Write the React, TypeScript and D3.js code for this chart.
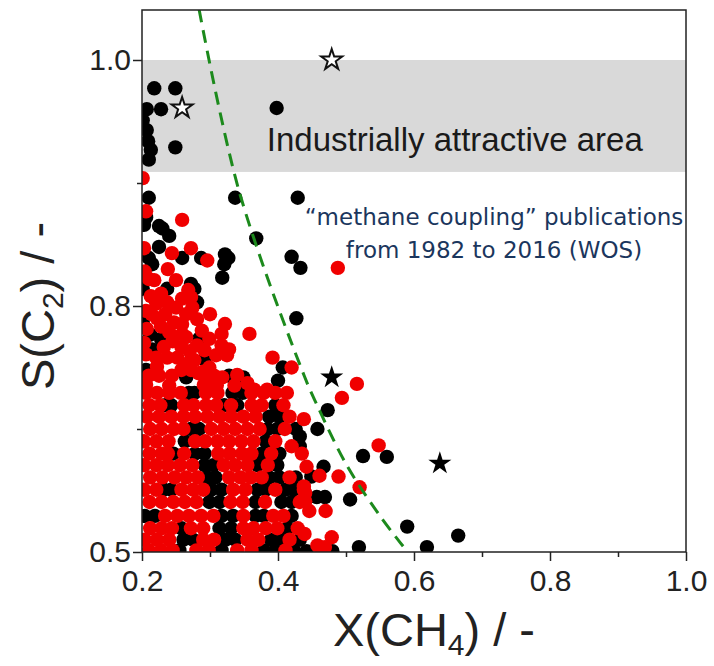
import * as d3 from "d3";
import { useRef, useEffect } from "react";

// publications, black (older) points: [X(CH4), S(C2)]
const blackPoints: [number, number][] = [
  [0.218, 0.977], [0.249, 0.977], [0.207, 0.96], [0.228, 0.96], [0.398, 0.961],
  [0.201, 0.951], [0.207, 0.943], [0.209, 0.934], [0.213, 0.927], [0.21, 0.919], [0.249, 0.929],
  [0.21, 0.888], [0.206, 0.872], [0.203, 0.866], [0.337, 0.888], [0.429, 0.888],
  [0.23, 0.863], [0.24, 0.857], [0.225, 0.865], [0.368, 0.855], [0.42, 0.84], [0.433, 0.831],
  [0.427, 0.785], [0.407, 0.725], [0.4, 0.709],
  [0.322, 0.842], [0.327, 0.839], [0.321, 0.834], [0.318, 0.823], [0.287, 0.839], [0.225, 0.848],
  [0.259, 0.839], [0.21, 0.839], [0.215, 0.834], [0.272, 0.818], [0.277, 0.814], [0.237, 0.814],
  [0.201, 0.814], [0.281, 0.803], [0.228, 0.76], [0.232, 0.762], [0.284, 0.76], [0.292, 0.735],
  [0.215, 0.747], [0.206, 0.722], [0.265, 0.713], [0.328, 0.715], [0.349, 0.713], [0.269, 0.694],
  [0.277, 0.694], [0.201, 0.78], [0.212, 0.765],
  [0.473, 0.673], [0.458, 0.65], [0.432, 0.641], [0.432, 0.629], [0.525, 0.617], [0.56, 0.616],
  [0.467, 0.604], [0.449, 0.592], [0.457, 0.567], [0.469, 0.567], [0.506, 0.564], [0.59, 0.531],
  [0.665, 0.52], [0.619, 0.506], [0.519, 0.506], [0.442, 0.501], [0.48, 0.501],
  [0.333, 0.694], [0.348, 0.694],
  [0.234, 0.679], [0.243, 0.679], [0.321, 0.679], [0.34, 0.679], [0.396, 0.679],
  [0.387, 0.665], [0.402, 0.665],
  [0.272, 0.65], [0.284, 0.65], [0.385, 0.65], [0.399, 0.65], [0.426, 0.65],
  [0.263, 0.635], [0.382, 0.635],
  [0.246, 0.62], [0.278, 0.62], [0.292, 0.62], [0.376, 0.62], [0.402, 0.62],
  [0.292, 0.606], [0.305, 0.606], [0.37, 0.606], [0.399, 0.606],
  [0.296, 0.591], [0.308, 0.591], [0.387, 0.591], [0.402, 0.591], [0.426, 0.591],
  [0.232, 0.576], [0.243, 0.576], [0.302, 0.576], [0.317, 0.576], [0.37, 0.576], [0.382, 0.576],
  [0.411, 0.576], [0.423, 0.576],
  [0.299, 0.561], [0.314, 0.561], [0.367, 0.561], [0.405, 0.561], [0.42, 0.561],
  [0.204, 0.544], [0.219, 0.544], [0.317, 0.544], [0.334, 0.544], [0.367, 0.544], [0.379, 0.544],
  [0.42, 0.544],
  [0.258, 0.529], [0.314, 0.529], [0.331, 0.529], [0.414, 0.529],
  [0.261, 0.515], [0.275, 0.515], [0.323, 0.515], [0.337, 0.515], [0.39, 0.515], [0.405, 0.515],
  [0.432, 0.515],
  [0.255, 0.502], [0.317, 0.502], [0.379, 0.502], [0.396, 0.502], [0.423, 0.502],
];

// publications, red (recent) points
const redPoints: [number, number][] = [
  [0.201, 0.904], [0.206, 0.877], [0.259, 0.87], [0.488, 0.831], [0.358, 0.766], [0.392, 0.737],
  [0.42, 0.725],
  [0.296, 0.837], [0.272, 0.847], [0.244, 0.843], [0.203, 0.847], [0.238, 0.83], [0.204, 0.828],
  [0.21, 0.822], [0.218, 0.821], [0.25, 0.821], [0.268, 0.813], [0.213, 0.808], [0.221, 0.802],
  [0.237, 0.803], [0.259, 0.806], [0.272, 0.807], [0.25, 0.798], [0.274, 0.798], [0.206, 0.794],
  [0.281, 0.784], [0.247, 0.78], [0.259, 0.778], [0.207, 0.772], [0.222, 0.785], [0.234, 0.79],
  [0.259, 0.766], [0.265, 0.762], [0.245, 0.757], [0.299, 0.76], [0.317, 0.766], [0.322, 0.778],
  [0.317, 0.752], [0.328, 0.747], [0.281, 0.752], [0.292, 0.746], [0.309, 0.74], [0.325, 0.74],
  [0.206, 0.741], [0.221, 0.737], [0.237, 0.737], [0.252, 0.737], [0.269, 0.731], [0.277, 0.734],
  [0.299, 0.725], [0.21, 0.715], [0.225, 0.715], [0.244, 0.715], [0.306, 0.715], [0.318, 0.713],
  [0.24, 0.703], [0.206, 0.704], [0.291, 0.704], [0.31, 0.703], [0.336, 0.703], [0.365, 0.698],
  [0.384, 0.698], [0.222, 0.726], [0.258, 0.722], [0.283, 0.718], [0.203, 0.755],
  [0.228, 0.775], [0.24, 0.768], [0.27, 0.745], [0.288, 0.77], [0.3, 0.79], [0.214, 0.79],
  [0.232, 0.75], [0.258, 0.75], [0.272, 0.722], [0.29, 0.72], [0.3, 0.707], [0.34, 0.716],
  [0.355, 0.706], [0.265, 0.79], [0.228, 0.81],
  [0.516, 0.705], [0.494, 0.688], [0.438, 0.662], [0.548, 0.63], [0.42, 0.629], [0.442, 0.604],
  [0.461, 0.593], [0.489, 0.592], [0.52, 0.579], [0.438, 0.58], [0.44, 0.572], [0.47, 0.55],
  [0.44, 0.562], [0.446, 0.55], [0.439, 0.522], [0.479, 0.518], [0.458, 0.508], [0.469, 0.506],
  [0.206, 0.694], [0.222, 0.694], [0.24, 0.694], [0.257, 0.694], [0.294, 0.694], [0.311, 0.694],
  [0.361, 0.694], [0.379, 0.694], [0.396, 0.694], [0.413, 0.694],
  [0.211, 0.679], [0.227, 0.679], [0.262, 0.679], [0.276, 0.679], [0.294, 0.679], [0.309, 0.679],
  [0.331, 0.679], [0.361, 0.679], [0.376, 0.679], [0.408, 0.679],
  [0.207, 0.665], [0.225, 0.665], [0.243, 0.665], [0.261, 0.665], [0.278, 0.665], [0.296, 0.665],
  [0.314, 0.665], [0.331, 0.665], [0.349, 0.665], [0.367, 0.665], [0.417, 0.665],
  [0.212, 0.65], [0.229, 0.65], [0.247, 0.65], [0.261, 0.65], [0.302, 0.65], [0.32, 0.65],
  [0.337, 0.65], [0.355, 0.65], [0.373, 0.65], [0.41, 0.65],
  [0.203, 0.635], [0.221, 0.635], [0.239, 0.635], [0.278, 0.635], [0.293, 0.635], [0.311, 0.635],
  [0.328, 0.635], [0.346, 0.635], [0.364, 0.635], [0.396, 0.635],
  [0.211, 0.62], [0.229, 0.62], [0.238, 0.62], [0.262, 0.62], [0.312, 0.62], [0.329, 0.62],
  [0.347, 0.62], [0.361, 0.62], [0.39, 0.62], [0.435, 0.62],
  [0.203, 0.606], [0.221, 0.606], [0.238, 0.606], [0.256, 0.606], [0.274, 0.606], [0.32, 0.606],
  [0.337, 0.606], [0.355, 0.606], [0.385, 0.606],
  [0.212, 0.591], [0.23, 0.591], [0.248, 0.591], [0.265, 0.591], [0.282, 0.591], [0.328, 0.591],
  [0.345, 0.591], [0.36, 0.591], [0.376, 0.591], [0.417, 0.591],
  [0.203, 0.576], [0.221, 0.576], [0.258, 0.576], [0.275, 0.576], [0.29, 0.576], [0.334, 0.576],
  [0.352, 0.576], [0.396, 0.576], [0.438, 0.576],
  [0.211, 0.561], [0.229, 0.561], [0.246, 0.561], [0.263, 0.561], [0.28, 0.561], [0.33, 0.561],
  [0.348, 0.561], [0.381, 0.561], [0.432, 0.561],
  [0.234, 0.544], [0.252, 0.544], [0.269, 0.544], [0.287, 0.544], [0.305, 0.544], [0.349, 0.544],
  [0.393, 0.544], [0.408, 0.544],
  [0.212, 0.529], [0.229, 0.529], [0.244, 0.529], [0.272, 0.529], [0.29, 0.529], [0.349, 0.529],
  [0.364, 0.529], [0.382, 0.529], [0.399, 0.529], [0.429, 0.529],
  [0.204, 0.515], [0.222, 0.515], [0.24, 0.515], [0.29, 0.515], [0.306, 0.515], [0.355, 0.515],
  [0.371, 0.515], [0.417, 0.515],
  [0.21, 0.502], [0.228, 0.502], [0.245, 0.502], [0.28, 0.502], [0.298, 0.502], [0.34, 0.502],
  [0.361, 0.502], [0.411, 0.502],
];

const openStars: [number, number][] = [[0.259, 0.961], [0.479, 1.0]];
const solidStars: [number, number][] = [[0.479, 0.713], [0.638, 0.608]];

// green dashed boundary
const boundary: [number, number][] = [
  [0.284, 1.041], [0.343, 0.893], [0.439, 0.714], [0.457, 0.68],
  [0.501, 0.606], [0.55, 0.544], [0.584, 0.507],
];

const attractiveBand = [0.909, 1.0];

const xTicks = [0.2, 0.3, 0.4, 0.5, 0.6, 0.7, 0.8, 0.9, 1.0];
const xLabelled = [0.2, 0.4, 0.6, 0.8, 1.0];
const yTicks = [0.5, 0.65, 0.8, 0.9, 1.0];
const yLabelled = [0.5, 0.8, 1.0];

const noteLines = ["\u201cmethane coupling\u201d publications", "from 1982 to 2016 (WOS)"];

export default function App({
  width = 714,
  height = 666,
  marginTop = 10,
  marginRight = 28,
  marginBottom = 114,
  marginLeft = 142,
}) {
  const gx = useRef<SVGGElement>(null);
  const gy = useRef<SVGGElement>(null);

  const x = d3.scaleLinear([0.2, 1.0], [marginLeft, width - marginRight]);
  // ticks on the y axis are evenly spaced although labelled 0.5 / 0.8 / 1.0
  const yBottom = height - marginBottom;
  const yOne = 60;
  const step = (yBottom - yOne) / 4;
  const y = d3.scaleLinear([0.5, 0.8, 1.0], [yBottom, yBottom - 2 * step, yOne]);

  const line = d3
    .line<[number, number]>()
    .x((d) => x(d[0]))
    .y((d) => y(d[1]))
    .curve(d3.curveCatmullRom);

  const star = d3.symbol().type(d3.symbolStar);

  useEffect(() => {
    const fmt = d3.format(".1f");
    const gX = d3.select(gx.current);
    gX.selectAll("*").remove();
    gX.append("g").call(
      d3.axisBottom(x).tickValues(xTicks.filter((v) => !xLabelled.includes(v))).tickSize(5).tickFormat(() => "")
    );
    gX.append("g").call(
      d3.axisBottom(x).tickValues(xLabelled).tickSize(9).tickPadding(9).tickFormat((d) => fmt(d as number))
    );
    const gY = d3.select(gy.current);
    gY.selectAll("*").remove();
    gY.append("g").call(
      d3.axisLeft(y).tickValues(yTicks.filter((v) => !yLabelled.includes(v))).tickSize(5).tickFormat(() => "")
    );
    gY.append("g").call(
      d3.axisLeft(y).tickValues(yLabelled).tickSize(9).tickPadding(2).tickFormat((d) => fmt(d as number))
    );
    for (const g of [gX, gY]) {
      g.selectAll(".domain").remove();
      g.selectAll("line").attr("stroke", "#222").attr("stroke-width", 1.5);
      g.selectAll("text")
        .attr("font-size", 30)
        .attr("font-family", "Liberation Sans, Arial, sans-serif")
        .attr("fill", "#222");
    }
  }, [x, y]);

  const plotW = width - marginRight - marginLeft;
  const plotH = yBottom - marginTop;

  return (
    <svg width={width} height={height} style={{ position: "absolute", left: 0, top: 0 }}>
      <defs>
        <clipPath id="plot-clip">
          <rect x={marginLeft} y={marginTop} width={plotW} height={plotH} />
        </clipPath>
      </defs>
      <rect width={width} height={height} fill="#fff" />

      <rect
        x={marginLeft}
        y={y(attractiveBand[1])}
        width={plotW}
        height={y(attractiveBand[0]) - y(attractiveBand[1])}
        fill="#d9d9d9"
      />
      <text
        x={x(0.66)}
        y={y(0.926)}
        textAnchor="middle"
        fontSize={33}
        fontFamily="Liberation Sans, Arial, sans-serif"
        fill="#1a1a1a"
      >
        Industrially attractive area
      </text>

      <g clipPath="url(#plot-clip)">
        <g fill="#000">
          {blackPoints.map((d, i) => (
            <circle key={i} cx={x(d[0])} cy={y(d[1])} r={7.2} />
          ))}
        </g>
        <g fill="#f00000">
          {redPoints.map((d, i) => (
            <circle key={i} cx={x(d[0])} cy={y(d[1])} r={7.2} />
          ))}
        </g>
        <path
          d={line(boundary) ?? ""}
          fill="none"
          stroke="#1c8a1c"
          strokeWidth={3}
          strokeDasharray="13,8"
        />
        {openStars.map((d, i) => (
          <path
            key={i}
            d={star.size(136)() ?? ""}
            transform={`translate(${x(d[0])},${y(d[1])})`}
            fill="#fff"
            stroke="#111"
            strokeWidth={2}
          />
        ))}
        {solidStars.map((d, i) => (
          <path
            key={i}
            d={star.size(165)() ?? ""}
            transform={`translate(${x(d[0])},${y(d[1])})`}
            fill="#000"
          />
        ))}
      </g>

      <text
        textAnchor="middle"
        fontSize={23}
        fontFamily="DejaVu Sans, Verdana, sans-serif"
        fill="#1b365d"
      >
        {noteLines.map((t, i) => (
          <tspan key={i} x={x(0.6) + 80} y={225 + i * 33}>
            {t}
          </tspan>
        ))}
      </text>

      <rect
        x={marginLeft}
        y={marginTop}
        width={plotW}
        height={plotH}
        fill="none"
        stroke="#222"
        strokeWidth={1.5}
      />
      <g ref={gx} transform={`translate(0,${yBottom})`} />
      <g ref={gy} transform={`translate(${marginLeft},0)`} />

      <text
        x={marginLeft + plotW / 2 + 20}
        y={646}
        textAnchor="middle"
        fontSize={47}
        fontFamily="Liberation Sans, Arial, sans-serif"
        fill="#222"
      >
        X(CH<tspan fontSize={30} dy={9}>4</tspan>
        <tspan dy={-9}>) / -</tspan>
      </text>
      <text
        transform={`translate(54,${y(0.8)}) rotate(-90)`}
        textAnchor="middle"
        fontSize={47}
        fontFamily="Liberation Sans, Arial, sans-serif"
        fill="#222"
      >
        S(C<tspan fontSize={30} dy={9}>2</tspan>
        <tspan dy={-9}>) / -</tspan>
      </text>
    </svg>
  );
}
